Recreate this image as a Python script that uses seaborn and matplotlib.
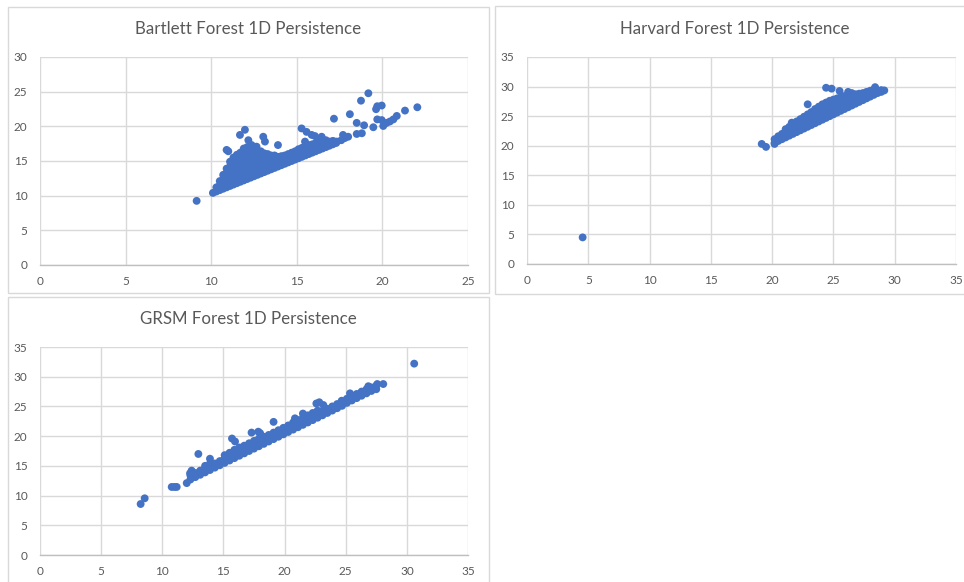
import matplotlib
matplotlib.use("Agg")
import matplotlib.pyplot as plt
import seaborn as sns
import pandas as pd
from matplotlib.patches import Rectangle

# ---------------- data ----------------
titles = ["Bartlett Forest 1D Persistence", "Harvard Forest 1D Persistence", "GRSM Forest 1D Persistence"]
x_ticks = [[0, 5, 10, 15, 20, 25], [0, 5, 10, 15, 20, 25, 30, 35], [0, 5, 10, 15, 20, 25, 30, 35]]
y_ticks = [[0, 5, 10, 15, 20, 25, 30], [0, 5, 10, 15, 20, 25, 30, 35], [0, 5, 10, 15, 20, 25, 30, 35]]

# Bartlett: dense cluster read column by column (birth -> deaths)
bartlett_col_x = [10.1, 10.3, 10.5, 10.7, 10.9, 11.1, 11.3, 11.5, 11.7, 11.9, 12.1, 12.3, 12.5,
                  12.7, 12.9, 13.1, 13.3, 13.5, 13.7, 13.9, 14.1, 14.3, 14.5, 14.7, 14.9, 15.1,
                  15.3, 15.5, 15.7, 15.9, 16.1, 16.3, 16.5, 16.7, 16.9, 17.1, 17.3]
bartlett_col_y = [
    [10.4], [10.6, 11.2], [10.8, 11.5, 12.1], [11.0, 11.7, 12.4, 13.0],
    [11.2, 11.9, 12.6, 13.3, 13.9], [11.4, 12.1, 12.8, 13.5, 14.2, 14.9],
    [11.6, 12.3, 13.0, 13.7, 14.4, 15.1, 15.5], [11.8, 12.5, 13.2, 13.9, 14.6, 15.3, 15.9],
    [12.0, 12.7, 13.4, 14.1, 14.8, 15.5, 16.2], [12.2, 12.9, 13.6, 14.3, 15.0, 15.7, 16.4, 16.8],
    [12.4, 13.1, 13.8, 14.5, 15.2, 15.9, 16.6, 17.0], [12.6, 13.3, 14.0, 14.7, 15.4, 16.1, 16.8, 17.2],
    [12.8, 13.5, 14.2, 14.9, 15.6, 16.3, 16.9], [13.0, 13.7, 14.4, 15.1, 15.8, 16.5],
    [13.2, 13.9, 14.6, 15.3, 16.0, 16.4], [13.4, 14.1, 14.8, 15.5, 16.1],
    [13.6, 14.3, 15.0, 15.7, 16.0], [13.8, 14.5, 15.2, 15.8], [14.0, 14.7, 15.4, 15.8],
    [14.2, 14.9, 15.6], [14.4, 15.1, 15.7], [14.6, 15.3, 15.8], [14.8, 15.5, 16.0],
    [15.0, 15.6, 16.2], [15.2, 15.8, 16.4], [15.4, 16.0, 16.7], [15.6, 16.2, 16.9],
    [15.8, 16.4, 17.1], [16.0, 16.6, 17.3], [16.2, 16.8, 17.4], [16.4, 17.0, 17.6],
    [16.6, 17.2, 17.8], [16.8, 17.4, 17.9], [17.0, 17.6, 18.0], [17.2, 17.8], [17.4, 17.9], [17.6]]
bartlett_out_x = [9.15, 19.18, 18.75, 19.7, 19.96, 19.63, 22.04, 21.32, 18.1, 17.17, 19.7, 19.96,
                  20.84, 20.64, 20.44, 20.25, 18.5, 18.93, 19.47, 20.05, 18.8, 18.5, 18.0, 17.8,
                  17.6, 17.33, 17.04, 16.75, 15.28, 15.57, 15.87, 16.06, 16.45, 15.48, 17.2, 17.7,
                  13.9, 13.04, 13.14, 11.97, 11.68, 12.17, 12.36, 12.65, 10.9, 11.0]
bartlett_out_y = [9.25, 24.77, 23.7, 22.9, 23.0, 22.47, 22.75, 22.27, 21.75, 21.1, 21.0, 20.9,
                  21.5, 21.0, 20.7, 20.5, 20.5, 20.15, 19.87, 20.05, 19.0, 18.9, 18.5, 18.3,
                  18.0, 17.8, 17.56, 17.56, 19.7, 19.2, 18.76, 18.6, 18.5, 17.8, 17.8, 18.76,
                  17.3, 18.5, 17.8, 19.5, 18.76, 18.0, 17.3, 17.07, 16.6, 16.4]

# Harvard
harvard_col_x = [20.2, 20.5, 20.8, 21.1, 21.4, 21.7, 22.0, 22.3, 22.6, 22.9, 23.2, 23.5, 23.8,
                 24.1, 24.4, 24.7, 25.0, 25.3, 25.6, 25.9, 26.2, 26.5, 26.8, 27.1, 27.4, 27.7,
                 28.0, 28.3, 28.6, 28.9]
harvard_col_y = [
    [20.5, 21.1], [20.8, 21.6], [21.1, 22.0], [21.4, 22.3, 22.8], [21.7, 22.5, 23.2],
    [22.0, 22.8, 23.6], [22.3, 23.1, 23.9, 24.1], [22.6, 23.4, 24.2, 24.5], [22.9, 23.7, 24.5, 24.9],
    [23.2, 24.0, 24.8, 25.3], [23.5, 24.3, 25.1, 25.7], [23.8, 24.6, 25.4, 26.2], [24.1, 24.9, 25.7, 26.6],
    [24.4, 25.2, 26.0, 26.8, 27.0], [24.7, 25.5, 26.3, 27.1, 27.3], [25.0, 25.8, 26.6, 27.4, 27.6],
    [25.3, 26.1, 26.9, 27.8], [25.6, 26.4, 27.2, 28.0], [25.9, 26.7, 27.5, 28.2],
    [26.2, 27.0, 27.7, 28.4], [26.5, 27.3, 27.9, 28.5], [26.8, 27.5, 28.1, 28.6],
    [27.1, 27.8, 28.5, 28.7], [27.4, 28.0, 28.6, 28.8], [27.7, 28.3, 28.9], [28.0, 28.6, 29.1],
    [28.3, 28.9, 29.3], [28.6, 29.2, 29.5], [28.9, 29.3], [29.1, 29.4]]
harvard_out_x = [4.54, 19.15, 19.5, 20.2, 22.9, 24.4, 24.85, 25.5, 26.2, 26.5, 28.4, 29.15, 21.6]
harvard_out_y = [4.5, 20.3, 19.8, 20.3, 27.0, 29.8, 29.65, 29.25, 29.1, 28.9, 29.9, 29.35, 23.9]

# GRSM
grsm_col_x = [12.3, 12.7, 13.1, 13.5, 13.9, 14.3, 14.7, 15.1, 15.5, 15.9, 16.3, 16.7, 17.1, 17.5,
              17.9, 18.3, 18.7, 19.1, 19.5, 19.9, 20.3, 20.7, 21.1, 21.5, 21.9, 22.3, 22.7, 23.1,
              23.5, 23.9, 24.3, 24.7, 25.1, 25.5, 25.9, 26.3, 26.7, 27.1, 27.5]
grsm_col_y = [
    [12.7, 13.4], [13.1, 13.8], [13.5, 14.2], [13.9, 14.6, 15.0], [14.3, 15.0, 15.4],
    [14.7, 15.4], [15.1, 15.8], [15.5, 16.2, 16.8], [15.9, 16.6, 17.2], [16.3, 17.0, 17.7],
    [16.7, 17.4, 18.1], [17.1, 17.8, 18.4], [17.5, 18.2, 18.8], [17.9, 18.6, 19.2],
    [18.3, 19.0, 19.6], [18.7, 19.4, 19.9], [19.1, 19.8, 20.2], [19.5, 20.2, 20.6],
    [19.9, 20.6, 21.0], [20.3, 21.0, 21.4], [20.7, 21.4, 21.8], [21.1, 21.8, 22.3],
    [21.5, 22.2, 22.7], [21.9, 22.6, 23.1], [22.3, 23.0, 23.5], [22.7, 23.4, 23.9],
    [23.1, 23.8, 24.3], [23.5, 24.2], [23.9, 24.6], [24.3, 25.0], [24.7, 25.4], [25.1, 25.8],
    [25.6, 26.3], [26.0, 26.7], [26.4, 27.1], [26.8, 27.5], [27.2, 27.9], [27.6, 28.2], [27.9, 28.5]]
grsm_out_x = [8.23, 8.56, 10.77, 11.0, 11.18, 12.0, 12.95, 12.4, 12.27, 13.9, 14.9, 15.7, 15.95,
              17.3, 17.85, 18.0, 19.1, 21.5, 21.8, 20.85, 22.6, 22.84, 23.17, 24.67, 25.35, 26.85,
              27.58, 28.07, 30.6]
grsm_out_y = [8.58, 9.54, 11.45, 11.45, 11.45, 12.1, 17.0, 14.2, 13.75, 16.2, 15.8, 19.6, 19.1,
              20.6, 20.75, 20.5, 22.4, 23.8, 23.4, 23.0, 25.5, 25.7, 25.24, 25.96, 27.2, 28.4,
              28.77, 28.77, 32.2]


def build(col_x, col_y, out_x, out_y):
    xs, ys = [], []
    for cx, cys in zip(col_x, col_y):
        for cy in cys:
            xs.append(cx)
            ys.append(cy)
    xs += out_x
    ys += out_y
    return pd.DataFrame({"birth": xs, "death": ys})


frames = [build(bartlett_col_x, bartlett_col_y, bartlett_out_x, bartlett_out_y),
          build(harvard_col_x, harvard_col_y, harvard_out_x, harvard_out_y),
          build(grsm_col_x, grsm_col_y, grsm_out_x, grsm_out_y)]

# ---------------- style ----------------
sns.set_style("white")
plt.rcParams["font.family"] = ["Lato", "DejaVu Sans"]

W, H = 964, 582
fig = plt.figure(figsize=(W / 100, H / 100), dpi=100)
fig.patch.set_facecolor("white")

TXT = "#595959"
GRID = "#D9D9D9"
BLUE = "#4472C4"

# panel borders (pixel coords: left, top, right, bottom)
borders = [(8, 7, 489, 293), (495, 6, 970, 294), (8, 297, 489, 590)]
for (l, t, r, b) in borders:
    fig.patches.append(Rectangle((l / W, 1 - b / H), (r - l) / W, (b - t) / H,
                                 transform=fig.transFigure, fill=False,
                                 edgecolor=GRID, linewidth=1.0, zorder=0))

# axes rectangles (pixel coords)
axes_px = [(40, 57, 468, 265), (527, 57, 956, 264), (40, 347, 468, 555)]
title_px = [(248, 29), (735, 29), (248, 319)]

for i in range(3):
    l, t, r, b = axes_px[i]
    ax = fig.add_axes([l / W, 1 - b / H, (r - l) / W, (b - t) / H])
    sns.scatterplot(data=frames[i], x="birth", y="death", ax=ax, color=BLUE,
                    s=32, linewidth=0, edgecolor="none", zorder=3, legend=False)
    ax.set_xlim(x_ticks[i][0], x_ticks[i][-1])
    ax.set_ylim(y_ticks[i][0], y_ticks[i][-1])
    ax.set_xticks(x_ticks[i])
    ax.set_yticks(y_ticks[i])
    ax.set_xlabel("")
    ax.set_ylabel("")
    ax.grid(True, color=GRID, linewidth=1.0, zorder=0)
    ax.set_axisbelow(True)
    for side in ["top", "right", "left"]:
        ax.spines[side].set_visible(False)
    ax.spines["bottom"].set_color("#BFBFBF")
    ax.spines["bottom"].set_linewidth(1.0)
    ax.tick_params(axis="both", length=0, labelsize=8.5, labelcolor=TXT)
    ax.tick_params(axis="x", pad=8)
    ax.tick_params(axis="y", pad=9)
    for lab in ax.get_xticklabels() + ax.get_yticklabels():
        lab.set_clip_on(False)
    tx, ty = title_px[i]
    fig.text(tx / W, 1 - ty / H, titles[i], ha="center", va="center",
             fontsize=12.2, color=TXT)

fig.savefig("out.png", dpi=100, facecolor="white")
